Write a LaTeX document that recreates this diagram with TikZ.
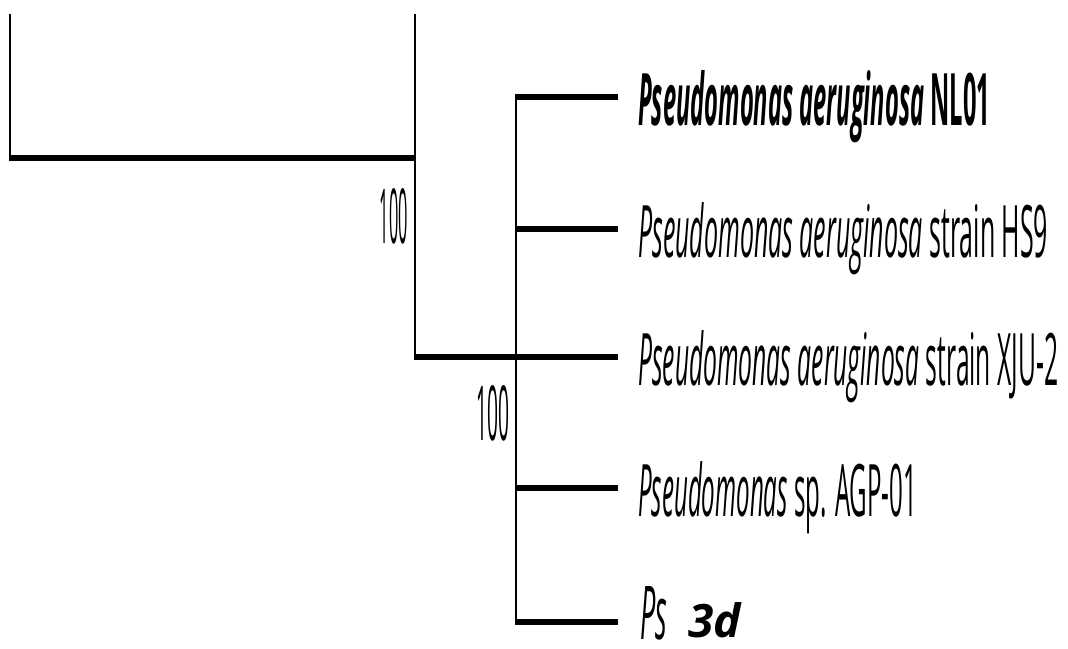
\documentclass[tikz,border=0pt]{standalone}
\usepackage{fontspec}
\setmainfont{Open Sans}
\newcommand\fitlab[3]{\resizebox{#1pt}{#2pt}{#3}}
\begin{document}
\begin{tikzpicture}[x=1pt,y=-1pt,
  hbr/.style={line width=5.5pt, black},
  vbr/.style={line width=2.6pt, black},
  lab/.style={anchor=base west, inner sep=0pt},
  boot/.style={anchor=base east, inner sep=0pt},
  panel/.style={anchor=base west, inner sep=0pt, font=\fontsize{46}{46}\selectfont\bfseries\itshape}]
\useasboundingbox (0,0) rectangle (1068,648);
% tree points
\coordinate (r0t) at (10,14);
\coordinate (r0)  at (10,158);
\coordinate (n1t) at (415,14);
\coordinate (n1)  at (415,158);
\coordinate (n1b) at (415,357);
\coordinate (n2t) at (516,97);
\coordinate (n2a) at (516,229);
\coordinate (n2m) at (516,357);
\coordinate (n2c) at (516,488);
\coordinate (n2b) at (516,622);
\coordinate (l1) at (618,97);
\coordinate (l2) at (618,229);
\coordinate (l3) at (618,357);
\coordinate (l4) at (618,488);
\coordinate (l5) at (618,622);
% vertical branches
\draw[vbr] (r0t) -- ([yshift=2.5pt]r0);
\draw[vbr] (n1t) -- ([yshift=2.5pt]n1b);
\draw[vbr] ([yshift=-2.5pt]n2t) -- ([yshift=2.5pt]n2b);
% horizontal branches
\draw[hbr] ([xshift=-1.3pt]r0) -- ([xshift=1.3pt]n1);
\draw[hbr] ([xshift=-1.3pt]n1b) -- (l3);
\draw[hbr] ([xshift=-1.3pt]n2t) -- (l1);
\draw[hbr] (n2a) -- (l2);
\draw[hbr] (n2c) -- (l4);
\draw[hbr] ([xshift=-1.3pt]n2b) -- (l5);
% bootstrap values
\node[boot] (b1) at (408,243) {\fitlab{28}{55}{100}};
\node[boot] (b2) at (510,440) {\fitlab{33}{55}{100}};
% taxon labels
\node[lab] (t1) at (638,125) {\fitlab{352}{55}{\bfseries\itshape Pseudomonas aeruginosa\/ \upshape NL01}};
\node[lab] (t2) at (638,257) {\fitlab{410}{55}{\itshape Pseudomonas aeruginosa\/ \upshape strain HS9}};
\node[lab] (t3) at (638,385) {\fitlab{420}{55}{\itshape Pseudomonas aeruginosa\/ \upshape strain XJU-2}};
\node[lab] (t4) at (638,516) {\fitlab{279}{55}{\itshape Pseudomonas\/ \upshape sp. AGP-01}};
\node[lab] (t5) at (640,639) {\fitlab{27}{53}{\itshape Ps}};
% panel label
\node[panel] (p) at (688,637) {3d};
\end{tikzpicture}
\end{document}
